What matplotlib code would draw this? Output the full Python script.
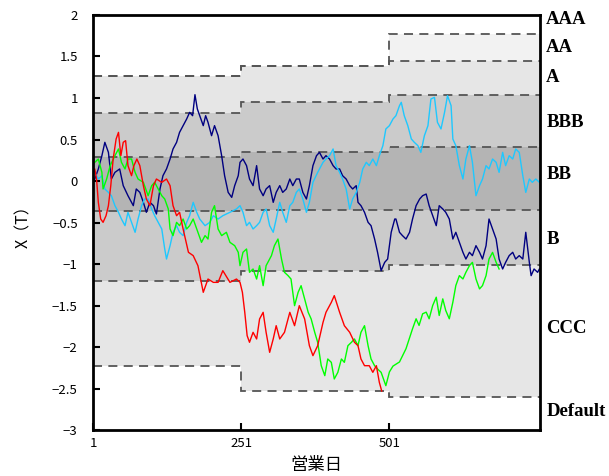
import matplotlib
matplotlib.use("Agg")
import matplotlib.pyplot as plt
import numpy as np

plt.rcParams['font.family'] = ['Noto Sans CJK JP', 'DejaVu Sans']
plt.rcParams['axes.unicode_minus'] = True

# Rating thresholds, piecewise constant between review dates
period_edges = [1, 251, 501, 755]
thr_aaa = [1.27, 1.39, 1.775]
thr_aa = [1.27, 1.39, 1.446]
thr_a = [0.82, 0.95, 1.04]
thr_bbb = [0.285, 0.353, 0.413]
thr_bb = [-0.36, -0.35, -0.35]
thr_b = [-1.21, -1.09, -1.016]
thr_ccc = [-2.225, -2.53, -2.60]

rating_names = ["AAA", "AA", "A", "BBB", "BB", "B", "CCC", "Default"]
rating_label_y = [1.95, 1.61, 1.25, 0.71, 0.08, -0.70, -1.78, -2.78]

# Simulated credit-index paths (day, value)
navy_day = [1, 4, 10, 16, 21, 27, 32, 38, 46, 52, 60, 69, 74, 80, 86, 91, 97, 103, 108, 114,
            119, 125, 131, 136, 142, 147, 153, 159, 164, 169, 173, 177, 181, 187, 191, 195, 201,
            206, 212, 218, 223, 229, 235, 240, 246, 249, 254, 260, 265, 271, 277, 282, 288, 293,
            299, 305, 310, 316, 321, 327, 333, 338, 344, 349, 355, 361, 366, 372, 378, 383, 389,
            394, 400, 406, 411, 417, 422, 428, 434, 439, 445, 448, 453, 459, 465, 470, 476, 481,
            487, 493, 498, 504, 510, 512, 518, 523, 529, 535, 540, 546, 552, 557, 563, 568, 574,
            580, 585, 591, 596, 602, 608, 613, 619, 625, 630, 636, 641, 647, 653, 658, 664, 669,
            675, 681, 686, 692, 697, 703, 709, 714, 720, 726, 731, 737, 740, 745, 751, 754]
navy_val = [0.0, 0.024, 0.145, 0.305, 0.466, 0.345, 0.024, 0.104, 0.145, -0.056, -0.177, -0.297,
            -0.096, -0.137, -0.257, -0.377, -0.257, -0.297, -0.397, -0.096, 0.064, 0.145, 0.265,
            0.386, 0.466, 0.586, 0.667, 0.747, 0.827, 0.787, 1.040, 0.868, 0.787, 0.667, 0.787,
            0.707, 0.546, 0.667, 0.546, 0.305, 0.064, -0.137, -0.197, -0.056, 0.064, 0.225, 0.265,
            0.185, 0.024, -0.056, 0.185, -0.096, -0.177, -0.096, -0.056, -0.257, -0.137, -0.056,
            -0.137, -0.096, 0.024, -0.056, 0.024, 0.024, -0.137, -0.217, -0.056, 0.185, 0.305,
            0.345, 0.265, 0.305, 0.265, 0.185, 0.145, 0.145, 0.064, 0.024, -0.056, -0.096, -0.056,
            -0.257, -0.297, -0.377, -0.498, -0.538, -0.699, -0.859, -1.080, -0.980, -0.940, -0.618,
            -0.458, -0.458, -0.618, -0.658, -0.699, -0.618, -0.458, -0.297, -0.217, -0.177, -0.157,
            -0.297, -0.418, -0.538, -0.297, -0.337, -0.377, -0.458, -0.699, -0.618, -0.739, -0.859,
            -0.940, -0.859, -0.899, -0.779, -0.859, -0.940, -0.779, -0.458, -0.578, -0.699, -0.940,
            -1.060, -0.980, -0.899, -0.859, -0.940, -0.899, -0.940, -0.618, -0.980, -1.140, -1.060,
            -1.100, -1.060]

red_day = [1, 4, 7, 10, 14, 18, 23, 27, 31, 35, 40, 44, 48, 52, 56, 60, 66, 70, 75, 80, 86, 91,
           97, 103, 108, 117, 125, 131, 136, 142, 147, 153, 162, 170, 178, 187, 195, 204, 212,
           220, 232, 243, 249, 253, 257, 261, 265, 271, 277, 282, 288, 293, 299, 305, 310, 316,
           324, 333, 341, 349, 358, 366, 372, 380, 389, 394, 403, 408, 417, 425, 434, 442, 448,
           453, 459, 467, 473, 479, 484, 488]
red_val = [0.10, 0.145, 0.024, -0.257, -0.458, -0.498, -0.418, -0.297, -0.056, 0.265, 0.506, 0.586,
           0.305, 0.466, 0.486, 0.185, 0.064, 0.185, 0.265, 0.185, -0.056, -0.217, -0.297, -0.056,
           0.024, -0.016, 0.024, -0.056, -0.297, -0.418, -0.377, -0.578, -0.859, -0.899, -1.020,
           -1.341, -1.181, -1.221, -1.221, -1.080, -1.221, -1.181, -1.221, -1.341, -1.582, -1.863,
           -1.943, -1.823, -1.903, -1.662, -1.582, -1.823, -2.064, -1.903, -1.743, -1.903, -1.823,
           -1.582, -1.743, -1.502, -1.662, -1.984, -2.104, -1.984, -1.703, -1.582, -1.462, -1.381,
           -1.582, -1.743, -1.823, -1.943, -1.984, -2.144, -2.225, -2.225, -2.305, -2.225, -2.426,
           -2.530]

green_day = [1, 4, 10, 16, 18, 24, 30, 38, 44, 49, 55, 60, 66, 72, 77, 86, 94, 100, 105, 111, 117,
             122, 128, 131, 136, 142, 147, 153, 159, 164, 170, 176, 184, 190, 195, 201, 206, 212,
             218, 226, 232, 240, 246, 249, 254, 260, 265, 271, 277, 282, 288, 293, 302, 307, 313,
             319, 324, 330, 335, 341, 347, 352, 358, 364, 369, 375, 380, 386, 392, 397, 403, 408,
             414, 420, 425, 431, 437, 442, 448, 453, 459, 465, 470, 476, 481, 487, 495, 501, 507,
             518, 529, 540, 546, 551, 557, 563, 568, 574, 580, 585, 591, 596, 602, 608, 613, 619,
             625, 630, 636, 641, 647, 653, 658, 664, 669, 675, 681, 686]
green_val = [0.20, 0.225, 0.265, 0.104, -0.096, 0.024, 0.185, 0.305, 0.386, 0.225, 0.145, 0.265,
             0.265, 0.104, 0.024, -0.016, -0.177, -0.056, -0.016, -0.096, -0.177, -0.217, -0.337,
             -0.578, -0.658, -0.498, -0.538, -0.458, -0.578, -0.538, -0.458, -0.578, -0.739, -0.658,
             -0.699, -0.377, -0.297, -0.578, -0.658, -0.618, -0.739, -0.779, -0.859, -1.020, -0.859,
             -0.819, -1.100, -1.060, -1.181, -1.020, -1.261, -1.020, -0.899, -0.779, -0.699, -0.940,
             -1.100, -1.140, -1.181, -1.502, -1.341, -1.261, -1.421, -1.582, -1.662, -1.823, -1.943,
             -2.225, -2.345, -2.144, -2.185, -2.385, -2.305, -2.144, -2.185, -1.984, -1.943, -1.903,
             -1.984, -1.823, -1.743, -1.984, -2.144, -2.225, -2.265, -2.305, -2.466, -2.300, -2.230,
             -2.180, -2.020, -1.780, -1.660, -1.740, -1.600, -1.580, -1.660, -1.500, -1.400, -1.620,
             -1.420, -1.560, -1.660, -1.460, -1.260, -1.140, -1.180, -1.100, -1.020, -0.980, -1.180,
             -1.300, -1.260, -1.140, -0.940, -0.860, -0.980, -1.060]

cyan_day = [1, 4, 10, 16, 21, 27, 32, 38, 44, 49, 55, 60, 66, 72, 77, 83, 88, 94, 100, 105, 111,
            117, 122, 125, 131, 136, 142, 147, 153, 159, 164, 170, 176, 181, 190, 198, 204, 212,
            220, 232, 243, 249, 254, 260, 265, 271, 277, 282, 288, 293, 299, 305, 310, 316, 321,
            327, 333, 338, 344, 349, 355, 361, 366, 372, 380, 389, 394, 400, 406, 411, 417, 422,
            428, 434, 439, 445, 451, 456, 462, 467, 473, 479, 484, 490, 495, 501, 507, 512, 518,
            521, 526, 532, 538, 543, 549, 554, 560, 566, 571, 577, 582, 588, 594, 599, 605, 608,
            613, 619, 625, 630, 636, 641, 647, 653, 658, 664, 669, 675, 681, 686, 692, 697, 703,
            709, 714, 720, 726, 731, 737, 742, 748, 754]
cyan_val = [0.10, 0.104, 0.024, 0.064, -0.096, -0.137, -0.177, -0.297, -0.377, -0.458, -0.538,
            -0.377, -0.498, -0.618, -0.458, -0.297, -0.217, -0.217, -0.337, -0.418, -0.498, -0.578,
            -0.819, -0.940, -0.779, -0.618, -0.538, -0.618, -0.658, -0.498, -0.418, -0.257, -0.377,
            -0.458, -0.538, -0.498, -0.418, -0.458, -0.418, -0.377, -0.337, -0.297, -0.377, -0.538,
            -0.498, -0.578, -0.538, -0.498, -0.377, -0.337, -0.538, -0.618, -0.458, -0.257, -0.377,
            -0.498, -0.297, -0.257, -0.137, -0.096, -0.217, -0.377, -0.257, -0.016, 0.104, 0.225,
            0.265, 0.305, 0.386, 0.185, 0.104, 0.024, -0.096, -0.337, -0.217, -0.137, -0.016,
            0.145, 0.225, 0.185, 0.265, 0.185, 0.305, 0.426, 0.627, 0.667, 0.747, 0.787, 0.908,
            0.948, 0.787, 0.667, 0.506, 0.466, 0.426, 0.345, 0.546, 0.667, 0.988, 1.008, 0.707,
            0.627, 0.827, 1.028, 0.908, 0.506, 0.426, 0.185, 0.024, 0.265, 0.426, 0.225, -0.177,
            -0.056, 0.024, 0.185, 0.145, 0.265, 0.225, 0.104, 0.345, 0.185, 0.305, 0.265, 0.386,
            0.345, 0.064, -0.137, 0.024, -0.016, 0.024, -0.016]

y_ticks = [2, 1.5, 1, 0.5, 0, -0.5, -1, -1.5, -2, -2.5, -3]
x_ticks = [1, 251, 501]

band_colors = ["#ffffff", "#f2f2f2", "#e6e6e6", "#cbcbcb", "#b4b4b4", "#cbcbcb", "#e6e6e6", "#ffffff"]

fig = plt.figure(figsize=(6.09, 4.76), dpi=100)
ax = fig.add_axes([0.1527, 0.0966, 0.7340, 0.8719])

y_top, y_bot = 2.0, -3.0
n_seg = len(period_edges) - 1
bounds = [[y_top] * n_seg, thr_aaa, thr_aa, thr_a, thr_bbb, thr_bb, thr_b, thr_ccc, [y_bot] * n_seg]

# rating bands
for i, col in enumerate(band_colors):
    upper = np.array(bounds[i], dtype=float)
    lower = np.array(bounds[i + 1], dtype=float)
    ax.stairs(upper, period_edges, baseline=lower, fill=True, color=col, zorder=1, linewidth=0)

# threshold lines
for thr in [thr_aaa, thr_aa, thr_a, thr_bbb, thr_bb, thr_b, thr_ccc]:
    ax.stairs(thr, period_edges, baseline=None, color="#555555", linestyle=(0, (5, 3.5)),
              linewidth=1.3, zorder=2)

ax.plot(navy_day, navy_val, color="#000080", linewidth=1.0, zorder=3)
ax.plot(cyan_day, cyan_val, color="#1ec8ff", linewidth=1.0, zorder=3)
ax.plot(green_day, green_val, color="#00ff00", linewidth=1.0, zorder=3)
ax.plot(red_day, red_val, color="#ff0000", linewidth=1.0, zorder=3)

ax.set_xlim(period_edges[0], period_edges[-1])
ax.set_ylim(y_bot, y_top)
ax.set_yticks(y_ticks)
ax.set_yticklabels([("−" if v < 0 else "") + f"{abs(v):g}" for v in y_ticks], fontsize=9.5)
ax.set_xticks(x_ticks)
ax.set_xticklabels([str(v) for v in x_ticks], fontsize=9.5)
ax.tick_params(axis="both", direction="in", length=5, width=1.5)
ax.tick_params(axis="y", right=False, pad=11)
ax.tick_params(axis="x", top=False, pad=5)
for sp in ax.spines.values():
    sp.set_linewidth(2)
    sp.set_color("black")
    sp.set_zorder(5)

ax.set_ylabel("X（T）", fontsize=11.5, labelpad=14)
ax.set_xlabel("営業日", fontsize=12.5, labelpad=4)

for name, yv in zip(rating_names, rating_label_y):
    ax.text(1.014, yv, name, transform=ax.get_yaxis_transform(), ha="left", va="center",
            fontsize=13.5, fontweight="bold", family="Liberation Serif")

fig.savefig("out.png", dpi=100)
